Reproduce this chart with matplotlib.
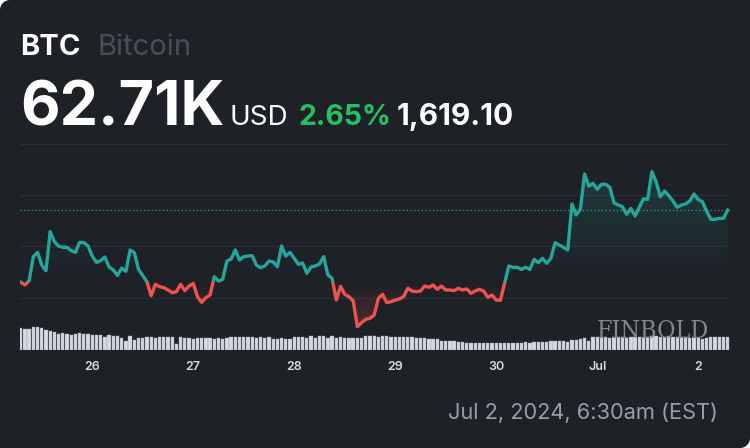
import matplotlib
matplotlib.use('Agg')

import numpy as np
import pandas as pd
import matplotlib.pyplot as plt
import matplotlib.dates as mdates
from matplotlib.patches import Rectangle, Polygon
from matplotlib.path import Path

W, H = 750, 448

# header / footer text
symbol = 'BTC'
coin_name = 'Bitcoin'
last_label = '62.71K'
currency = 'USD'
change_pct = '2.65%'
change_abs = '1,619.10'
stamp = 'Jul 2, 2024, 6:30am (EST)'

# hourly BTC price (USD), Jun 25 07:00 -> Jul 2 07:00
start_time = '2024-06-25 07:00'
price = [
    61300, 61245, 61330, 61800, 61884, 61636, 61525, 62288, 62093, 62008,
    61982, 61982, 61917, 61884, 62080, 62073, 62008, 61812, 61688, 61721,
    61793, 61597, 61538, 61434, 61577, 61512, 61930, 61878, 61551, 61427,
    61310, 61036, 61258, 61212, 61193, 61147, 61095, 61114, 61258, 61134,
    61225, 61277, 61016, 60906, 60997, 61049, 61408, 61320, 61356, 61714,
    61754, 61930, 61734, 61800, 61812, 61819, 61636, 61584, 61617, 61714,
    61695, 61604, 62008, 61812, 61884, 61767, 61649, 61675, 61473, 61597,
    61617, 61656, 61800, 61440, 61375, 60951, 61219, 61062, 61016, 60938,
    60429, 60508, 60573, 60593, 60658, 60984, 61062, 60899, 60919, 60951,
    60971, 61016, 61180, 61127, 61114, 61127, 61225, 61199, 61245, 61160,
    61225, 61147, 61147, 61134, 61180, 61147, 61167, 61082, 61127, 61160,
    61127, 61003, 61049, 60951, 60945, 61284, 61617, 61590, 61590, 61551,
    61590, 61551, 61747, 61682, 61767, 61669, 61767, 62073, 62028, 61982,
    61930, 62830, 62615, 62726, 63417, 63182, 63234, 63117, 63215, 63215,
    63156, 62856, 62810, 62778, 62628, 62745, 62595, 62765, 62934, 62921,
    63463, 63267, 62973, 63084, 62993, 62889, 62765, 62810, 62830, 62889,
    63026, 62921, 62876, 62693, 62530, 62530, 62549, 62549, 62710,
]

# hourly volume (relative units)
volume = [
    65, 62, 62, 68, 68, 65, 60, 57, 55, 48,
    50, 48, 45, 48, 51, 48, 48, 45, 45, 45,
    40, 45, 42, 42, 35, 28, 43, 30, 36, 36,
    39, 38, 36, 39, 39, 39, 39, 19, 39, 36,
    36, 33, 36, 36, 36, 36, 34, 36, 32, 36,
    38, 39, 39, 39, 39, 39, 37, 39, 35, 38,
    32, 34, 36, 34, 34, 40, 38, 38, 36, 43,
    36, 43, 43, 37, 43, 37, 38, 36, 36, 36,
    37, 36, 41, 41, 41, 40, 41, 41, 38, 38,
    38, 38, 38, 38, 35, 35, 35, 32, 32, 32,
    28, 28, 27, 27, 23, 23, 20, 20, 20, 20,
    20, 20, 20, 20, 20, 22, 22, 22, 22, 22,
    24, 22, 24, 24, 24, 24, 26, 26, 26, 28,
    23, 30, 31, 33, 35, 28, 38, 38, 38, 38,
    37, 38, 38, 38, 37, 38, 38, 38, 38, 40,
    43, 43, 40, 40, 41, 40, 40, 38, 38, 36,
    36, 36, 33, 36, 38, 38, 38, 38, 38,
]

tick_days = ['2024-06-26', '2024-06-27', '2024-06-28', '2024-06-29',
             '2024-06-30', '2024-07-01', '2024-07-02']
tick_labels = ['26', '27', '28', '29', '30', 'Jul', '2']
grid_levels = [61000, 62000, 63000, 64000]

BG = '#1e2126'
UP = '#26a69a'
DOWN = '#ef5350'
GRID = '#2b2e34'

plt.rcParams['font.family'] = ['Inter', 'DejaVu Sans']

fig = plt.figure(figsize=(W / 100, H / 100), dpi=100)
fig.patch.set_facecolor(BG)

t = pd.date_range(start_time, periods=len(price), freq='h')
tn = mdates.date2num(t)
p = np.array(price, dtype=float)
base = p[0]
hour = 1 / 24.0

rect = [20 / W, 1 - 350 / H, 710 / W, 220 / H]
xlim = (tn[0] - 0.17 * hour, tn[0] + 168.56 * hour)

# volume axes (behind)
vax = fig.add_axes(rect)
vax.set_facecolor('none')
vax.bar(tn, volume, width=0.78 * hour, color='#d8d9df', edgecolor='#a4a6ad',
        linewidth=0.3)
vax.set_xlim(*xlim)
vax.set_ylim(0, 660)
vax.axis('off')

# price axes
ax = fig.add_axes(rect)
ax.set_facecolor('none')
ax.set_xlim(*xlim)
ax.set_ylim(59973, 64278)
for s in ax.spines.values():
    s.set_visible(False)
ax.set_yticks(grid_levels)
ax.set_yticklabels([])
ax.tick_params(axis='y', length=0)
ax.grid(axis='y', color=GRID, linewidth=1)
ax.set_axisbelow(True)

ax.set_xticks(mdates.date2num(pd.to_datetime(tick_days)))
ax.set_xticklabels(tick_labels)
ax.tick_params(axis='x', length=0, pad=8, labelsize=9, labelcolor='#d8dae0')
for lbl in ax.get_xticklabels():
    lbl.set_fontweight('semibold')


def gradient_fill(where, color, y0, y1, a0, a1):
    coll = ax.fill_between(tn, p, base, where=where, interpolate=True,
                           color='none', linewidth=0)
    paths = coll.get_paths()
    if not paths:
        return
    clip = Path.make_compound_path(*paths)
    rgb = matplotlib.colors.to_rgb(color)
    grad = np.zeros((100, 1, 4))
    grad[:, 0, :3] = rgb
    grad[:, 0, 3] = np.linspace(a0, a1, 100)
    im = ax.imshow(grad, extent=[xlim[0], xlim[1], y0, y1], origin='lower',
                   aspect='auto', zorder=1, interpolation='bilinear')
    im.set_clip_path(clip, transform=ax.transData)


gradient_fill(p >= base, UP, base, p.max(), 0.0, 0.2)
gradient_fill(p <= base, DOWN, p.min(), base, 0.22, 0.0)
ax.set_xlim(*xlim)
ax.set_ylim(59973, 64278)

# line split at the opening price
up_clip = Rectangle((xlim[0], base), xlim[1] - xlim[0], 10000,
                    transform=ax.transData)
dn_clip = Rectangle((xlim[0], base - 10000), xlim[1] - xlim[0], 10000,
                    transform=ax.transData)
l1, = ax.plot(tn, p, color=UP, lw=2.4, solid_joinstyle='round', zorder=3)
l1.set_clip_path(up_clip)
l2, = ax.plot(tn, p, color=DOWN, lw=2.4, solid_joinstyle='round', zorder=3)
l2.set_clip_path(dn_clip)

ax.axhline(p[-1], color=UP, lw=0.9, ls=(0, (1, 2)), zorder=2)


def fxy(x, y):
    return x / W, 1 - y / H


fig.text(*fxy(20, 55), symbol, color='white', fontsize=21, fontweight='bold')
fig.text(*fxy(98, 55), coin_name, color='#4b4e56', fontsize=21)
fig.text(*fxy(20, 125), last_label, color='white', fontsize=44,
         fontweight='bold')
fig.text(*fxy(230, 125), currency, color='white', fontsize=20)
fig.text(*fxy(298, 125), change_pct, color='#23c164', fontsize=20.5,
         fontweight='bold')
fig.text(*fxy(397, 125), change_abs, color='white', fontsize=21.5,
         fontweight='bold')

fig.text(*fxy(718, 419), stamp, color='#9a9da4', fontsize=15.7, ha='right')

fig.text(*fxy(597, 338), 'FINBOLD', color='#85878b', fontsize=18,
         family='DejaVu Serif', fontstretch='condensed')

# rounded corners (top-left and bottom-right only)
r = 10
a = np.linspace(np.pi / 2, np.pi, 20)
tl = [(0, H)] + [(r + r * np.cos(v), H - r + r * np.sin(v)) for v in a]
a = np.linspace(1.5 * np.pi, 2 * np.pi, 20)
br = [(W, 0)] + [(W - r + r * np.cos(v), r + r * np.sin(v)) for v in a]
for pts in (tl, br):
    pts = [(x / W, y / H) for x, y in pts]
    fig.add_artist(Polygon(pts, closed=True, transform=fig.transFigure,
                           facecolor='white', edgecolor='none'))

fig.savefig('out.png', dpi=100, facecolor=BG)
